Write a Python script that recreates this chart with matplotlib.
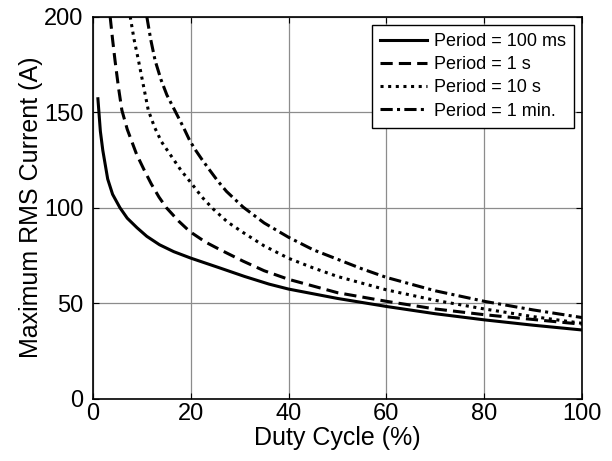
import matplotlib
matplotlib.use('Agg')
import matplotlib.pyplot as plt

plt.rcParams['font.family'] = ['Liberation Sans', 'DejaVu Sans']

# duty cycle (%) / max RMS current (A)
duty_100ms = [1, 1.5, 2, 3, 4, 5.5, 7, 9, 11, 13.6, 16.5, 20, 26, 31, 36, 40, 50, 60, 70, 80, 90, 100]
amps_100ms = [157, 140, 130, 115, 107, 100, 94.5, 89.5, 85, 80.6, 77, 73.6, 68.4, 64, 60, 57.4, 52.5, 48.3, 44.5, 41.3, 38.5, 36]

duty_1s = [3.5, 4, 4.5, 5.2, 5.9, 7, 8.9, 10.5, 11.9, 13.5, 15, 17.5, 19.8, 23, 26, 30.7, 35, 40,
           50, 60, 70, 80, 90, 100]
amps_1s = [200, 188, 177, 163, 151, 141, 128, 119.5, 112.5, 105.5, 100, 93, 87.5, 82, 78, 72, 67, 62.5,
           55.5, 51, 47, 44, 41.5, 39]

duty_10s = [7.6, 8.4, 9.3, 10.3, 11.3, 12.6, 14, 16, 18, 20.2, 22.3, 24.5, 27.5, 30.7, 35, 40, 45,
            50, 60, 70, 80, 90, 100]
amps_10s = [200, 188, 177, 164, 151, 142, 134.5, 127, 119.5, 112.5, 105.5, 99.5, 92.5, 87, 80, 73.5, 68.5,
            64, 57, 51.5, 47, 43, 39.5]

duty_1min = [11, 11.8, 12.7, 13.9, 15.1, 16.2, 17.1, 18.5, 19.8, 21, 22.2, 23.9, 25.5, 27.3, 30.7,
             35, 40, 45, 50, 55, 60, 70, 80, 90, 100]
amps_1min = [200, 188, 177, 167, 159, 153.5, 149, 142, 135, 130, 125.5, 119.5, 114, 108.5, 100.3,
             92, 84.5, 78, 73, 68, 63.5, 56.5, 51, 46.5, 42.5]

labels = ['Period = 100 ms', 'Period = 1 s', 'Period = 10 s', 'Period = 1 min.']

fig = plt.figure(figsize=(6.12, 4.61), dpi=100)
ax = fig.add_axes([0.152, 0.135, 0.799, 0.829])

lw = 2.2
ax.plot(duty_100ms, amps_100ms, color='black', lw=lw, linestyle='-', label=labels[0])
ax.plot(duty_1s, amps_1s, color='black', lw=lw, linestyle=(0, (4, 2)), label=labels[1])
ax.plot(duty_10s, amps_10s, color='black', lw=lw, linestyle=(0, (1, 1.5)), label=labels[2])
ax.plot(duty_1min, amps_1min, color='black', lw=lw, linestyle=(0, (4, 1.4, 1, 1.4)), label=labels[3])

ax.set_xlim(0, 100)
ax.set_ylim(0, 200)
ax.set_xticks([0, 20, 40, 60, 80, 100])
ax.set_yticks([0, 50, 100, 150, 200])
ax.grid(True, color='#8c8c8c', lw=0.9)
ax.tick_params(direction='in', top=True, right=True, labelsize=17, length=4)
ax.tick_params(axis='x', pad=3)
ax.tick_params(axis='y', pad=7)
for s in ax.spines.values():
    s.set_linewidth(1.2)

ax.set_xlabel('Duty Cycle (%)', fontsize=18, labelpad=0.5)
ax.set_ylabel('Maximum RMS Current (A)', fontsize=18, labelpad=1)

leg = ax.legend(loc='upper right', fontsize=13, frameon=True, fancybox=False,
                handlelength=2.6, handletextpad=0.35, labelspacing=0.35,
                borderpad=0.45, borderaxespad=0.45, framealpha=1)
leg.get_frame().set_edgecolor('black')
leg.get_frame().set_linewidth(1.0)

plt.savefig('out.png', dpi=100)
